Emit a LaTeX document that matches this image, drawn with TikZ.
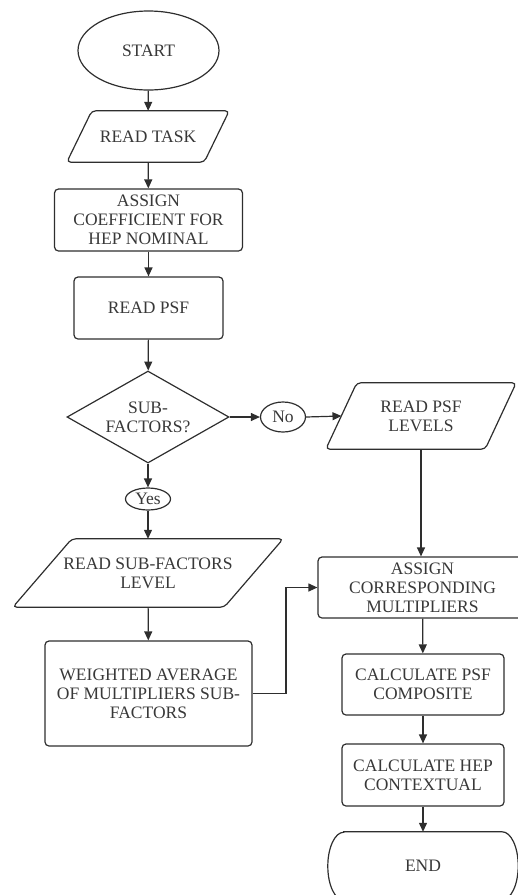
\documentclass[tikz,border=0pt]{standalone}
\usepackage{fontspec}
\setmainfont{Liberation Serif}
\usetikzlibrary{arrows.meta,shapes.geometric}

\definecolor{ln}{gray}{0.18}
\definecolor{txt}{gray}{0.22}

% outline of an input/output parallelogram around a (non-drawn) node
\newcommand\ioshape[2]{%
  \draw[outline, rounded corners=4pt]
    ([xshift=#2]#1.north west) -- (#1.north east)
    -- ([xshift=-#2]#1.south east) -- (#1.south west) -- cycle;}

\begin{document}
\begin{tikzpicture}[x=1pt,y=-1pt,
  every node/.style={font=\fontsize{17.5}{19}\selectfont, text=txt,
    align=center, inner sep=0pt},
  outline/.style={draw=ln, line width=1.2pt},
  box/.style={outline, rounded corners=4pt},
  oval/.style={outline, ellipse},
  decision/.style={outline, diamond, aspect=1.76},
  flow/.style={draw=ln, line width=1.2pt, -{Triangle[length=9pt,width=8pt]}}]

\clip (0,0) rectangle (518,895);

% left column
\node[oval, minimum width=141pt, minimum height=79pt] (start) at (148.5,50.5) {START};
\node[minimum width=162pt, minimum height=51pt] (task) at (148,136.5) {READ TASK};
\ioshape{task}{25pt}
\node[box, minimum width=188pt, minimum height=62pt] (coef) at (148.5,220) {ASSIGN\\COEFFICIENT FOR\\HEP NOMINAL};
\node[box, minimum width=149pt, minimum height=62pt] (psf) at (148.5,308) {READ PSF};
\node[decision, minimum width=162pt, minimum height=92pt] (sub) at (148,417) {SUB-\\FACTORS?};
\node[oval, minimum width=45pt, minimum height=22pt] (yes) at (148,499) {Yes};
\node[minimum width=270pt, minimum height=68pt] (subl) at (148,573) {READ SUB-FACTORS\\LEVEL};
\ioshape{subl}{59pt}
\node[box, minimum width=207pt, minimum height=105pt] (wavg) at (148.5,693.5) {WEIGHTED AVERAGE\\OF MULTIPLIERS SUB-\\FACTORS};

% right column
\node[oval, minimum width=45pt, minimum height=30pt] (no) at (283,417) {No};
\node[minimum width=190pt, minimum height=66pt] (lev) at (421,416) {READ PSF\\LEVELS};
\ioshape{lev}{31pt}
\node[box, minimum width=209pt, minimum height=61pt] (mult) at (422.5,587.5) {ASSIGN\\CORRESPONDING\\MULTIPLIERS};
\node[box, minimum width=162pt, minimum height=61pt] (comp) at (423,684.5) {CALCULATE PSF\\COMPOSITE};
\node[box, minimum width=162pt, minimum height=62pt] (ctx) at (423,775) {CALCULATE HEP\\CONTEXTUAL};
\node[minimum width=190pt, minimum height=68pt] (end) at (423,866) {END};
\draw[outline] ([xshift=16pt]end.north west) -- ([xshift=-16pt]end.north east)
  arc[start angle=90, end angle=-90, x radius=16pt, y radius=34pt]
  -- ([xshift=16pt]end.south west)
  arc[start angle=270, end angle=90, x radius=16pt, y radius=34pt] -- cycle;

% connectors
\draw[flow] (start) -- (task);
\draw[flow] (task) -- (coef);
\draw[flow] (coef) -- (psf);
\draw[flow] (psf) -- (sub);
\draw[flow] (sub) -- (yes);
\draw[flow] (yes) -- (subl);
\draw[flow] (subl) -- (wavg);
\draw[flow] (sub.east) -- (no.west);
\draw[flow] (no.east) -- ([xshift=-0.5pt]lev.west -| 342,0);
\draw[flow] (lev.south) -- (lev.south |- mult.north);
\draw[flow] (wavg.east) -- (286,693.5) |- (mult.west);
\draw[flow] (mult) -- (comp);
\draw[flow] (comp) -- (ctx);
\draw[flow] (ctx) -- (end);
\end{tikzpicture}
\end{document}
